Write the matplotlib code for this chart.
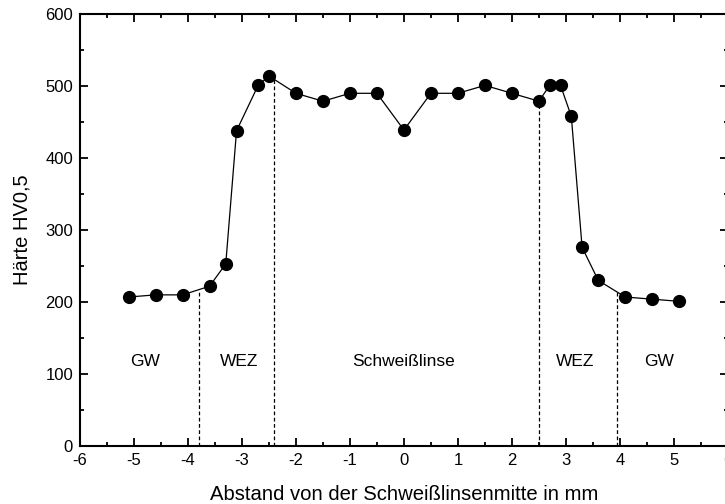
import numpy as np
import matplotlib
matplotlib.use("Agg")
import matplotlib.pyplot as plt
from matplotlib.ticker import MultipleLocator

plt.rcParams["font.family"] = ["Liberation Sans", "DejaVu Sans"]
plt.rcParams["axes.unicode_minus"] = False

# Messpunkte (Abstand in mm, Haerte HV0,5)
abstand = [-5.1, -4.6, -4.1, -3.6, -3.3, -3.1, -2.7, -2.5, -2.0, -1.5, -1.0, -0.5,
           0.0, 0.5, 1.0, 1.5, 2.0, 2.5, 2.7, 2.9, 3.1, 3.3, 3.6, 4.1, 4.6, 5.1]
haerte = [207, 210, 210, 222, 253, 438, 501, 514, 490, 479, 490, 490,
          439, 490, 490, 501, 490, 479, 501, 501, 458, 276, 230, 207, 204, 201]

# Zonengrenzen und Beschriftungen
grenzen = [-3.8, -2.4, 2.5, 3.95]
zonen = ["GW", "WEZ", "Schweißlinse", "WEZ", "GW"]
zonen_x = [-4.8, -3.05, 0.0, 3.17, 4.72]
zonen_y = 117

fig = plt.figure(figsize=(7.25, 5.04), dpi=100)
ax = fig.add_axes([0.1103, 0.115, 0.8937, 0.857])

ax.plot(abstand, haerte, color="black", lw=0.9, marker="o", ms=8.5, zorder=3)

for g in grenzen:
    top = np.interp(g, abstand, haerte)
    ax.plot([g, g], [0, top], color="black", lw=0.9, ls=(0, (3, 2)), zorder=2)

for txt, xz in zip(zonen, zonen_x):
    ax.text(xz, zonen_y, txt, ha="center", va="center", fontsize=12.5)

ax.set_xlim(-6, 6)
ax.set_ylim(0, 600)
ax.xaxis.set_major_locator(MultipleLocator(1))
ax.xaxis.set_minor_locator(MultipleLocator(0.5))
ax.yaxis.set_major_locator(MultipleLocator(100))
ax.yaxis.set_minor_locator(MultipleLocator(50))
ax.tick_params(which="both", direction="in", top=True, right=True, width=1.3, labelsize=12)
ax.tick_params(which="major", length=6, pad=5)
ax.tick_params(which="minor", length=3)
for s in ax.spines.values():
    s.set_linewidth(1.5)

ax.set_xlabel("Abstand von der Schweißlinsenmitte in mm", fontsize=14.6, labelpad=12)
ax.set_ylabel("Härte HV0,5", fontsize=14.5, labelpad=10)

fig.savefig("out.png", dpi=100)
